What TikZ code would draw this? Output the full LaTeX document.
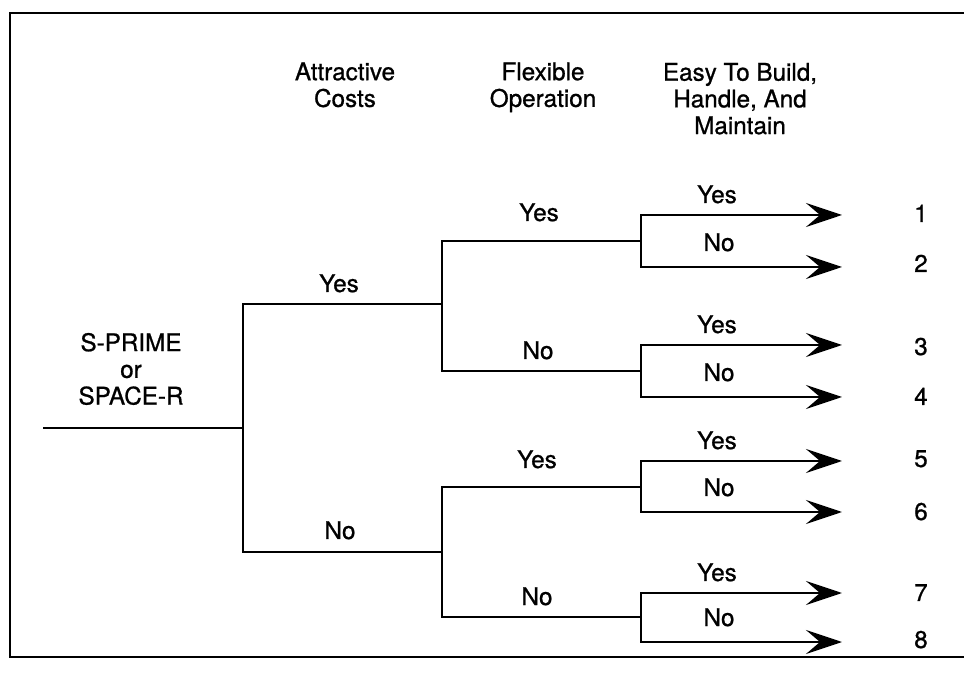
\documentclass[tikz,border=0pt]{standalone}
\usepackage{fontspec}
\setmainfont{TeX Gyre Heros}[UprightFeatures={FakeBold=0.9}]
\usetikzlibrary{arrows.meta}

\begin{document}
\begin{tikzpicture}[x=0.02cm,y=-0.02cm,line width=1.7pt,
    txt/.style={align=center,inner sep=0pt,font=\fontsize{13.8}{15.2}\selectfont},
    lbl/.style={txt,anchor=base},
    hdr/.style={txt,anchor=north},
    leafarrow/.style={-{Stealth[length=7.2mm,width=4.8mm,inset=2.8mm]}}]
     \useasboundingbox (0,0) rectangle (964,675);
     \draw (964,13) -- (10,13) -- (10,657) -- (964,657);
     \node[hdr] (cost) at (345,61) {Attractive\\Costs};
     \node[hdr] (flex) at (543,61) {Flexible\\Operation};
     \node[hdr] (easy) at (740,61.5) {Easy To Build,\\Handle, And\\Maintain};
     \node[hdr] (src) at (131,331.5) {S-PRIME\\or\\SPACE-R};
     \coordinate (start) at (43,428);
     \coordinate (root) at (243,428);
     \coordinate (j1) at (442,304);
     \coordinate (j2) at (442,552);
     \coordinate (k1) at (641,241);
     \coordinate (k2) at (641,371);
     \coordinate (k3) at (641,487);
     \coordinate (k4) at (641,617);
     \coordinate (e1) at (842,215);
     \coordinate (e2) at (842,267);
     \coordinate (e3) at (842,345);
     \coordinate (e4) at (842,397);
     \coordinate (e5) at (842,461);
     \coordinate (e6) at (842,512);
     \coordinate (e7) at (842,593);
     \coordinate (e8) at (842,642);
     \draw (start) -- (root);
     \draw (root) |- (j1);
     \draw (root) |- (j2);
     \draw (j1) |- (k1);
     \draw (j1) |- (k2);
     \draw (j2) |- (k3);
     \draw (j2) |- (k4);
     \draw[leafarrow] (k1) |- (e1);
     \draw[leafarrow] (k1) |- (e2);
     \draw[leafarrow] (k2) |- (e3);
     \draw[leafarrow] (k2) |- (e4);
     \draw[leafarrow] (k3) |- (e5);
     \draw[leafarrow] (k3) |- (e6);
     \draw[leafarrow] (k4) |- (e7);
     \draw[leafarrow] (k4) |- (e8);
     \node[lbl] (cyes) at (339,292) {Yes};
     \node[lbl] (cno) at (340,539) {No};
     \node[lbl] (fyes1) at (539,221) {Yes};
     \node[lbl] (fno1) at (538,359) {No};
     \node[lbl] (fyes2) at (537,468) {Yes};
     \node[lbl] (fno2) at (537,605) {No};
     \node[lbl] (eyes1) at (717,203) {Yes};
     \node[lbl] (eno1) at (719,251) {No};
     \node[lbl] (eyes2) at (717,333) {Yes};
     \node[lbl] (eno2) at (719,381) {No};
     \node[lbl] (eyes3) at (717,449) {Yes};
     \node[lbl] (eno3) at (719,496) {No};
     \node[lbl] (eyes4) at (717,581) {Yes};
     \node[lbl] (eno4) at (719,626) {No};
     \node[lbl] (n1) at (921,222) {1};
     \node[lbl] (n2) at (921,272) {2};
     \node[lbl] (n3) at (921,355) {3};
     \node[lbl] (n4) at (921,405) {4};
     \node[lbl] (n5) at (921,467) {5};
     \node[lbl] (n6) at (921,520) {6};
     \node[lbl] (n7) at (921,601) {7};
     \node[lbl] (n8) at (921,648) {8};
\end{tikzpicture}
\end{document}
